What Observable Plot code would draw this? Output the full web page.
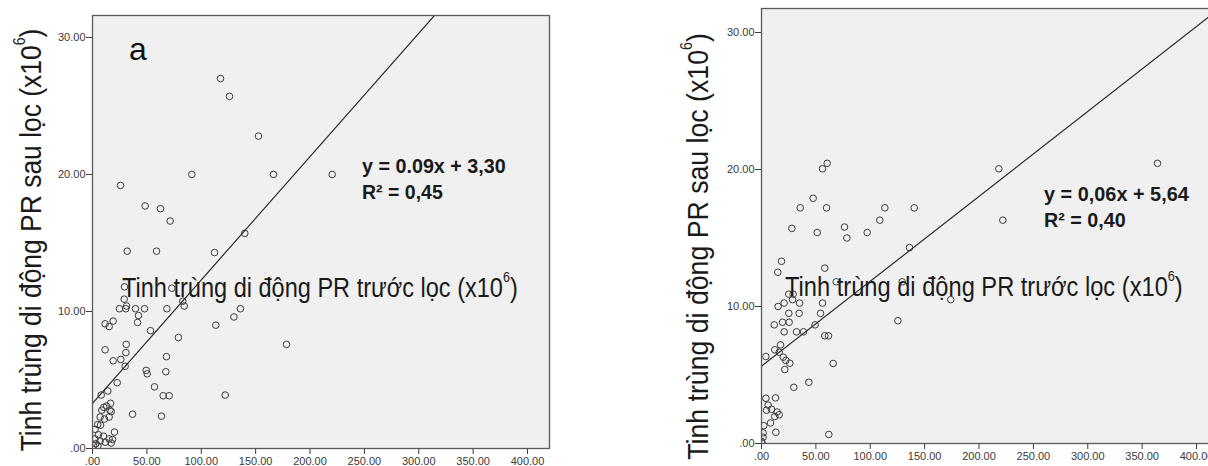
<!DOCTYPE html>
<html><head><meta charset="utf-8">
<script src="https://cdn.jsdelivr.net/npm/d3@7"></script>
<script src="https://cdn.jsdelivr.net/npm/@observablehq/plot@0.6"></script>
<style>
body{margin:0;background:#fff;}
#wrap{position:relative;width:1208px;height:466px;overflow:hidden;font-family:"Liberation Sans",Arial,sans-serif;}
#wrap svg{position:absolute;top:0;}
</style></head><body><div id="wrap"></div>
<script>
// ---- data ----
const leftX = [117.7,126,152.6,91.3,166.4,220.4,25.7,48.4,62.5,71.4,31.9,58.9,112.2,140,29.4,72.9,29.1,31.3,24.8,30.6,39.5,47.8,68.4,42.3,83,84.3,41.4,11.6,15.3,19,53.3,79,113.4,130,136,178.4,11.6,31,30.7,26,19,30,68,49.4,50.3,67.4,57,22.7,14.1,8,65,70.5,122,36.8,63.4,16.6,12.9,16,10.4,8.6,17.2,15.3,7,11,4.8,7.4,2.4,20.2,5.5,10.1,15.3,2.4,7,17.2,3,11.7,1,5,18.4];
const leftY = [27.0,25.7,22.8,20.0,20.0,20.0,19.2,17.7,17.5,16.6,14.4,14.4,14.3,15.7,11.8,11.7,10.9,10.4,10.2,10.2,10.2,10.2,10.2,9.7,10.75,10.4,9.2,9.1,8.9,9.3,8.6,8.1,9.0,9.6,10.2,7.6,7.2,7.6,7.0,6.5,6.4,6.0,6.7,5.7,5.45,5.6,4.5,4.8,4.2,3.9,3.85,3.85,3.9,2.5,2.36,3.3,3.1,2.8,3.0,2.8,2.7,2.3,2.3,2.15,1.75,1.7,1.4,1.2,1.0,0.9,0.7,0.7,0.55,0.4,0.35,0.46,0.2,0.2,0.66];
const rightX = [56.1,60.4,218.2,364.1,47.5,35.6,59.8,113.4,140.4,221.9,27.9,51.2,76.3,78.5,97.2,108.8,136.1,18.4,15,58.2,68.7,129.4,174,125.4,56.1,54.3,34.6,25.1,35,28.5,25.1,29.1,20.8,15.3,19.3,25.4,11.7,49.3,38.6,32.2,20.8,58.2,61.6,4,12.2,17.5,16.3,20,26,21.4,22.4,65.9,29.7,43.5,4,12.9,6.1,9.2,4.6,14.4,16.3,12.2,8.3,2.1,13.2,1.5,1.5,0,61.9,0.5];
const rightY = [20.05,20.45,20.05,20.45,17.9,17.2,17.2,17.2,17.2,16.3,15.7,15.4,15.8,15.0,15.4,16.3,14.3,13.3,12.5,12.8,11.8,11.8,10.5,8.96,10.25,9.5,9.5,9.5,10.25,10.5,10.9,10.9,10.25,10.0,8.85,8.85,8.66,8.66,8.15,8.15,8.15,7.86,7.86,6.35,6.84,7.2,6.66,6.3,5.86,5.4,6.06,5.84,4.1,4.47,3.3,3.33,2.8,2.5,2.43,2.3,2.1,1.97,1.5,1.3,0.82,0.78,0.46,0.15,0.66,0.05];
const xTicks = [0,50,100,150,200,250,300,350,400];
const yTicks = [0,10,20,30];
const fitSlope = [0.09, 0.062];
const fitIntercept = [3.30, 5.64];
const eqLabels = ["y = 0.09x + 3,30", "y = 0,06x + 5,64"];
const r2Labels = ["R² = 0,45", "R² = 0,40"];
const panelLetters = ["a", ""];
const xTitle = "Tinh trùng di động PR trước lọc (x10";
const yTitle = "Tinh trùng di động PR sau lọc (x10";
const expo = "6";

// ---- layout ----
const panels = [
  {xs:leftX, ys:leftY, left:0, width:600, mL:92, mR:51, mT:15, mB:18, xMax:420.2, yMax:31.6,
   xt:{x:122, b:297, len:396}, yt:{x:41, cy:240, len:423}, eq:{x:362, b:173, len:144}, r2:{x:362, b:199, len:81}, letter:{x:138, b:60}},
  {xs:rightX, ys:rightY, left:604, width:610, mL:157, mR:0, mT:8, mB:23, xMax:416.5, yMax:31.75,
   xt:{x:181, b:296, len:398}, yt:{x:104, cy:246.5, len:427}, eq:{x:440, b:201, len:145}, r2:{x:440, b:227, len:82}, letter:null}
];
const fmt = d => d === 0 ? ".00" : d.toFixed(2);
const wrap = document.getElementById("wrap");

panels.forEach((p, k) => {
  const idx = d3.range(p.xs.length);
  const fit = [0, p.xMax].map(x => ({x, y: fitIntercept[k] + fitSlope[k] * x}));
  const chart = Plot.plot({
    width: p.width, height: 466,
    marginLeft: p.mL, marginRight: p.mR, marginTop: p.mT, marginBottom: p.mB,
    style: {fontFamily: '"Liberation Sans", Arial, sans-serif', fontSize: "11px", background: "transparent", overflow: "visible"},
    x: {domain: [0, p.xMax], label: null},
    y: {domain: [0, p.yMax], label: null},
    marks: [
      Plot.frame({fill: "#f0f0f0", stroke: null}),
      Plot.axisX({ticks: xTicks, tickFormat: fmt, tickSize: 6, tickPadding: 3, color: "#3a3a3a", label: null}),
      Plot.axisY({ticks: yTicks, tickFormat: fmt, tickSize: 6, tickPadding: 1, color: "#3a3a3a", label: null}),
      Plot.dot(idx, {x: i => p.xs[i], y: i => p.ys[i], r: 3.3, stroke: "#3c3c3c", strokeWidth: 1, fill: "none", clip: true}),
      Plot.line(fit, {x: "x", y: "y", stroke: "#2a2a2a", strokeWidth: 1.2, clip: true}),
      Plot.frame({stroke: "#5a5a5a", strokeWidth: 1.3})
    ]
  });
  chart.style.left = p.left + "px";
  wrap.appendChild(chart);
  const svg = d3.select(chart);

  function addText(tx, ty, rot, anchor, len, build) {
    const g = svg.append("g");
    const t = g.append("text").attr("text-anchor", anchor).attr("fill", "#1a1a1a");
    build(t);
    const w = t.node().getBBox().width;
    const s = len / w;
    g.attr("transform", `translate(${tx},${ty})` + (rot ? ` rotate(${rot})` : "") + ` scale(${s},1)`);
  }
  const titleBuild = (str, fs, sfs, sdy) => t => {
    t.attr("font-size", fs);
    t.append("tspan").text(str);
    t.append("tspan").attr("font-size", sfs).attr("dy", -sdy).text(expo);
    t.append("tspan").attr("dy", sdy).text(")");
  };
  addText(p.xt.x, p.xt.b, 0, "start", p.xt.len, titleBuild(xTitle, 28, 15, 15));
  addText(p.yt.x, p.yt.cy, -90, "middle", p.yt.len, titleBuild(yTitle, 30, 16, 16));
  addText(p.eq.x, p.eq.b, 0, "start", p.eq.len, t => t.attr("font-size", 19.5).attr("font-weight", "bold").text(eqLabels[k]));
  addText(p.r2.x, p.r2.b, 0, "start", p.r2.len, t => t.attr("font-size", 19.5).attr("font-weight", "bold").text(r2Labels[k]));
  if (p.letter && panelLetters[k]) {
    svg.append("text").attr("x", p.letter.x).attr("y", p.letter.b).attr("font-size", 32).attr("fill", "#111").text(panelLetters[k]);
  }
});
</script></body></html>
